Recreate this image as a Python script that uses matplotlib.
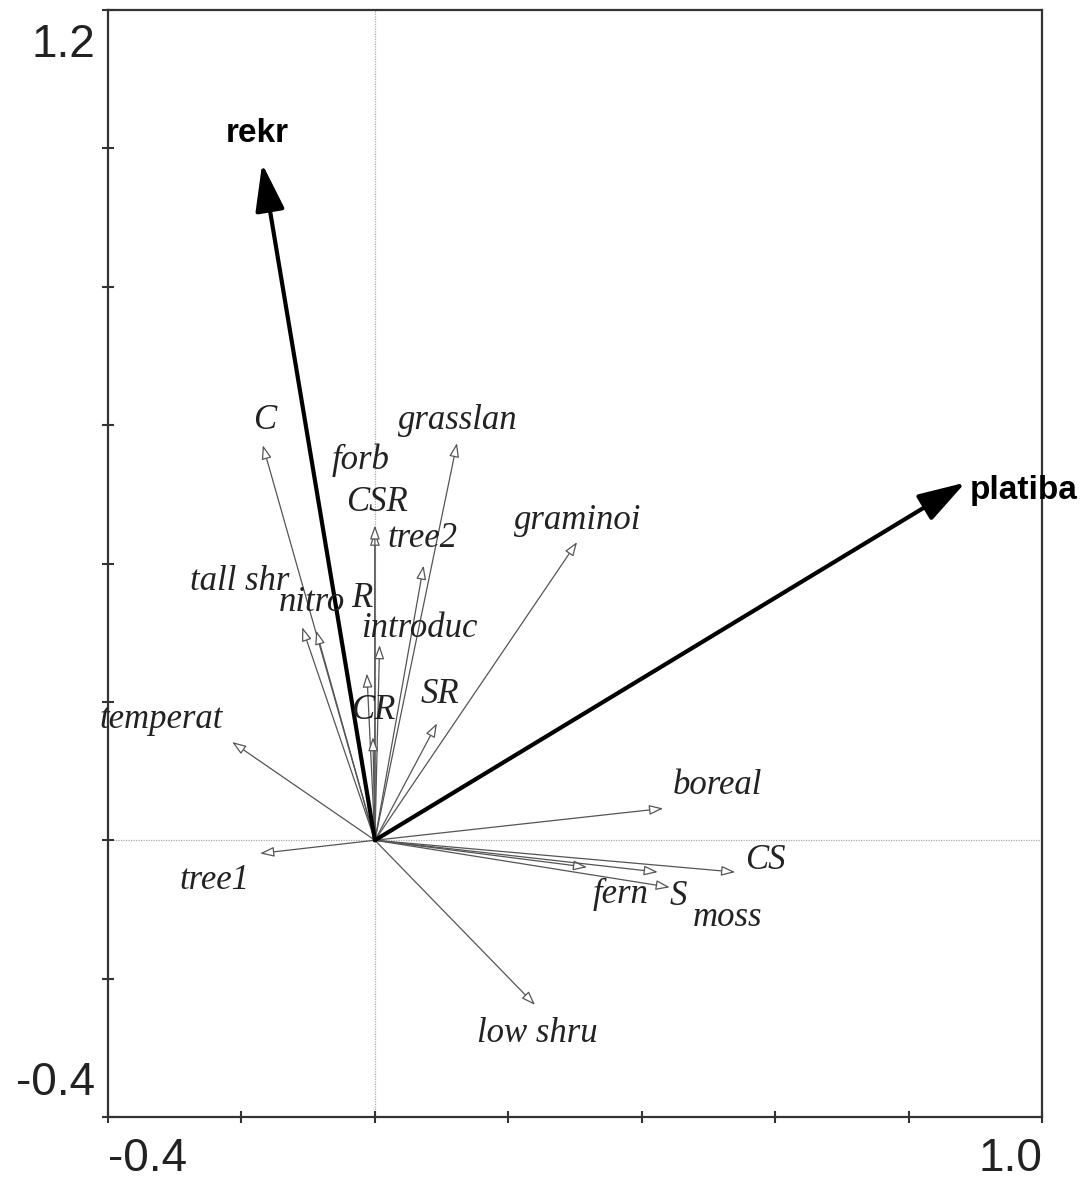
import matplotlib.pyplot as plt
import numpy as np

# environmental variables (thick arrows)
env_names = ['rekr', 'platiba']
env_x = [-0.169, 0.885]
env_y = [0.978, 0.517]

# species groups / traits (thin arrows)
sp_names = ['C', 'forb', 'tall shr', 'nitro', 'R', 'introduc', 'CSR', 'tree2',
            'grasslan', 'graminoi', 'CR', 'temperat', 'SR', 'boreal', 'CS',
            'fern', 'moss', 'S', 'tree1', 'low shru']
sp_x = [-0.168, 0.000, -0.109, -0.088, -0.012, 0.007, 0.000, 0.073,
        0.123, 0.303, -0.003, -0.214, 0.093, 0.432, 0.540,
        0.318, 0.424, 0.442, -0.172, 0.240]
sp_y = [0.571, 0.446, 0.308, 0.303, 0.241, 0.282, 0.455, 0.397,
        0.574, 0.431, 0.149, 0.142, 0.169, 0.046, -0.046,
        -0.039, -0.046, -0.068, -0.019, -0.238]

# where the labels sit (label placement only)
env_label_pos = [(-0.177, 1.022, 'center'), (0.892, 0.506, 'left')]
sp_label_pos = [(-0.165, 0.606), (-0.022, 0.549), (-0.202, 0.374), (-0.094, 0.343),
                (-0.019, 0.350), (0.067, 0.306), (0.003, 0.488), (0.072, 0.436),
                (0.124, 0.607), (0.304, 0.462), (-0.003, 0.188), (-0.320, 0.174),
                (0.097, 0.210), (0.514, 0.079), (0.585, -0.029),
                (0.368, -0.079), (0.528, -0.111), (0.455, -0.082), (-0.240, -0.058),
                (0.243, -0.279)]

fig = plt.figure(figsize=(10.88, 11.81), dpi=100)
ax = fig.add_axes([0.0993, 0.0542, 0.8585, 0.9373])
ax.set_xlim(-0.4, 1.0)
ax.set_ylim(-0.4, 1.2)

ax.axhline(0, color='#aaaaaa', lw=0.9, linestyle=(0, (1, 1)), zorder=1)
ax.axvline(0, color='#aaaaaa', lw=0.9, linestyle=(0, (1, 1)), zorder=1)

# thin arrows
for name, x, y, pos in zip(sp_names, sp_x, sp_y, sp_label_pos):
    ax.annotate('', xy=(x, y), xytext=(0, 0),
                arrowprops=dict(arrowstyle='-|>,head_length=0.7,head_width=0.25',
                                color='#555555', fc='white', lw=0.9,
                                mutation_scale=12, shrinkA=0, shrinkB=0),
                zorder=2)
    ax.text(pos[0], pos[1], name, fontsize=25, family='Liberation Serif',
            style='italic', color='#222222', ha='center', va='center', zorder=4)

# thick arrows
for name, x, y, pos in zip(env_names, env_x, env_y, env_label_pos):
    ax.annotate('', xy=(x, y), xytext=(0, 0),
                arrowprops=dict(arrowstyle='-|>,head_length=1.45,head_width=0.45',
                                color='black', lw=3, mutation_scale=20,
                                shrinkA=0, shrinkB=0),
                zorder=3)
    ax.text(pos[0], pos[1], name, fontsize=24, family='Liberation Sans',
            weight='bold', ha=pos[2], va='center', clip_on=False, zorder=5)

ticks_x = np.arange(-0.4, 1.01, 0.2)
ticks_y = np.arange(-0.4, 1.21, 0.2)
ax.set_xticks(ticks_x)
ax.set_yticks(ticks_y)
ax.set_xticklabels(['-0.4'] + [''] * (len(ticks_x) - 2) + ['1.0'])
ax.set_yticklabels([])
ax.tick_params(direction='inout', length=9, width=1.5, color='#333333',
               labelsize=33, labelcolor='#222222')
ax.tick_params(axis='x', pad=10)
for lab in ax.get_xticklabels():
    lab.set_family('Liberation Sans')
xt = ax.get_xticklabels()
xt[0].set_ha('left')
xt[-1].set_ha('right')

# y end labels sit a bit inside the axis ends
ax.annotate('1.2', xy=(0, 1), xycoords='axes fraction', xytext=(-13, -35),
            textcoords='offset pixels', ha='right', va='center', fontsize=33,
            family='Liberation Sans', color='#222222')
ax.annotate('-0.4', xy=(0, 0), xycoords='axes fraction', xytext=(-13, 34),
            textcoords='offset pixels', ha='right', va='center', fontsize=33,
            family='Liberation Sans', color='#222222')

for s in ax.spines.values():
    s.set_linewidth(1.6)
    s.set_color('#333333')

plt.savefig('out.png', dpi=100)
